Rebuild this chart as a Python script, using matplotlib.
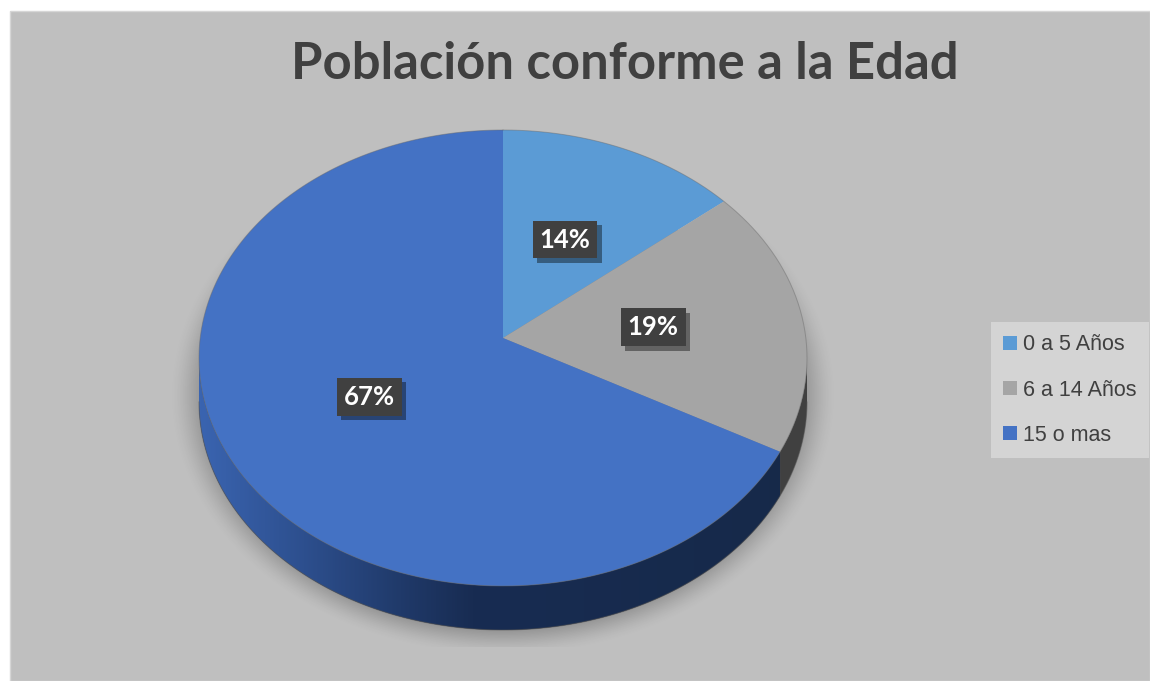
import numpy as np
import matplotlib.pyplot as plt
import matplotlib.patheffects as pe
from matplotlib.patches import Polygon, Rectangle, Patch
from matplotlib.colors import LinearSegmentedColormap

# data
labels = ['0 a 5 Años', '6 a 14 Años', '15 o mas']
values = [14, 19, 67]
colors = ['#5b9bd5', '#a5a5a5', '#4472c4']
title = 'Población conforme a la Edad'

W, H = 1150, 681
fig = plt.figure(figsize=(W / 100, H / 100), dpi=100)
fig.patch.set_facecolor('white')
ax = fig.add_axes([0, 0, 1, 1])
ax.set_xlim(0, W)
ax.set_ylim(H, 0)
ax.axis('off')

ax.add_patch(Rectangle((10, 11), W - 10, H - 11, facecolor='#bfbfbf',
                       edgecolor='#d6d6d6', lw=1, zorder=0))

# pie geometry (pixels): ellipse centre, radii, depth, apex lift
cx, cy, rx, ry, depth, lift = 503, 358, 304, 228, 44, 20
k = 2.0 * lift / (2 * ry)  # perspective factor
B = ry - lift + ry * k
vs = -lift / B
A = rx * (1 + k * vs) / np.sqrt(1 - vs ** 2)


def rim(t, r=1.0, dy=0):
    # circle angle (clockwise from top) -> screen point with perspective
    t = np.radians(t)
    u, v = r * np.sin(t), r * np.cos(t)
    d = 1 + k * v
    return cx + A * u / d, cy - (B * v + lift) / d + dy


# soft shadow under the pie
gx = np.arange(140, 880)
gy = np.arange(230, 648)
X, Y = np.meshgrid(gx, gy)
e = np.sqrt(((X - 503) / 322.0) ** 2 + ((Y - 395) / 252.0) ** 2)
a = np.clip((1.04 - e) / 0.16, 0, 1)
a = a * a * (3 - 2 * a) * 0.30
img = np.zeros((len(gy), len(gx), 4))
img[..., 3] = a
ax.imshow(img, extent=(gx[0], gx[-1], gy[-1], gy[0]), origin='upper',
          interpolation='bilinear', zorder=1, aspect='auto')

angles = np.concatenate([[0], np.cumsum(values) / sum(values) * 360])
t_side = np.degrees(np.arccos(vs))  # silhouette angle on the right

# side of the pie (front half only)
blue_side = LinearSegmentedColormap.from_list('side', [
    (0.0, '#3a64b0'), (0.17, '#2d4f8e'), (0.33, '#203a6a'),
    (0.45, '#182c52'), (1.0, '#162949')])
for i in range(len(values)):
    t1, t2 = max(angles[i], t_side), min(angles[i + 1], 360 - t_side)
    if t1 >= t2:
        continue
    ts = np.linspace(t1, t2, 200)
    top = np.column_stack(rim(ts))
    bot = np.column_stack(rim(ts[::-1], dy=depth))
    poly = Polygon(np.vstack([top, bot]), closed=True, zorder=2,
                   facecolor='#404040', edgecolor='none')
    ax.add_patch(poly)
    if i == 2:
        grad = np.linspace(0, 1, 400)[None, :]
        im = ax.imshow(grad, cmap=blue_side, extent=(cx - rx, cx + rx, cy + ry + depth, cy - 10),
                       aspect='auto', zorder=2.1, interpolation='bilinear')
        im.set_clip_path(poly)

tb = np.linspace(t_side, 360 - t_side, 300)
bx, by = rim(tb, dy=depth)
ax.plot(bx, by, color='#555555', lw=0.8, alpha=0.5, zorder=2.2)

# top face
cpt = rim(0, r=0)
for i in range(len(values)):
    ts = np.linspace(angles[i], angles[i + 1], 200)
    pts = np.column_stack(rim(ts))
    ax.add_patch(Polygon(np.vstack([cpt, pts]), closed=True,
                         facecolor=colors[i], edgecolor='none', zorder=3))
ta = np.linspace(0, 360, 600)
ex, ey = rim(ta)
ax.plot(ex, ey, color='#6a6a6a', lw=0.7, alpha=0.45, zorder=3.1)

# data labels
for i, v in enumerate(values):
    lx, ly = rim((angles[i] + angles[i + 1]) / 2, r=0.5)
    t = ax.text(lx, ly, '%d%%' % v, fontsize=18.5, fontweight='bold', family='Lato',
                color='white', ha='center', va='center', zorder=5,
                bbox=dict(boxstyle='square,pad=0.27', facecolor='#404040', edgecolor='none'))
    t.get_bbox_patch().set_path_effects([
        pe.SimplePatchShadow(offset=(3, -3), shadow_rgbFace='black', alpha=0.4),
        pe.Normal()])

ax.text(625, 79, title, fontsize=36.5, fontweight='bold', family='Lato',
        color='#404040', ha='center', va='baseline', zorder=5)

handles = [Patch(facecolor=c, edgecolor='none', label=l) for c, l in zip(colors, labels)]
leg = ax.legend(handles=handles, loc='upper left', bbox_to_anchor=(991, 322),
                bbox_transform=ax.transData, frameon=True, fancybox=False,
                prop={'family': 'Liberation Sans', 'size': 15.5},
                handlelength=0.62, handleheight=0.62, handletextpad=0.3,
                labelspacing=1.12, borderpad=0.58, borderaxespad=0)
leg.get_frame().set_facecolor('#d4d4d4')
leg.get_frame().set_edgecolor('none')
leg.get_frame().set_alpha(1)
for t in leg.get_texts():
    t.set_color('#404040')

fig.savefig('out.png', dpi=100, facecolor=fig.get_facecolor())
